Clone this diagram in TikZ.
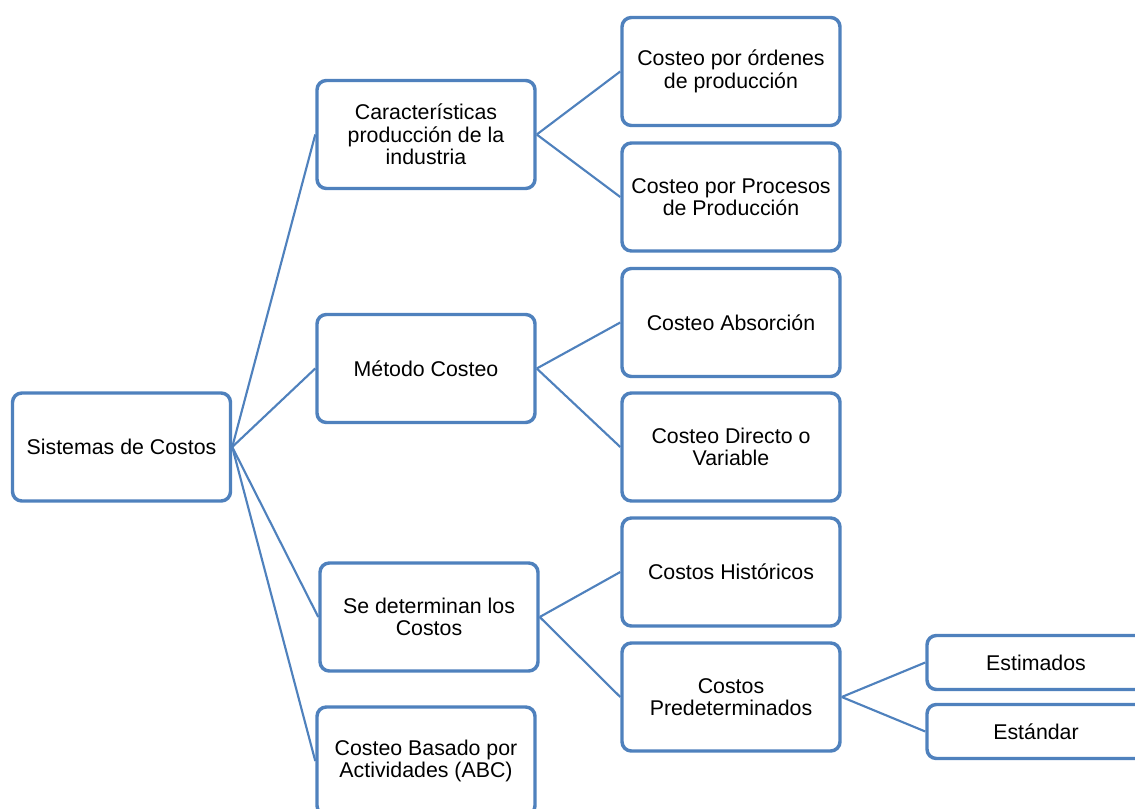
\documentclass[tikz,border=0pt]{standalone}
\usepackage{fontspec}
\setmainfont{Liberation Sans}
\definecolor{boxblue}{HTML}{4F81BD}
\begin{document}
\begin{tikzpicture}[x=0.75pt,y=-0.75pt,
  box/.style={draw=boxblue,line width=2.6pt,rounded corners=7pt,fill=white,
    minimum width=163.5pt,minimum height=81pt,align=center,inner sep=2pt,
    font=\fontsize{16}{17}\selectfont},
  smallbox/.style={box,minimum height=40.5pt},
  link/.style={draw=boxblue,line width=1.6pt}]
\useasboundingbox (0,0) rectangle (1135,809);
\clip (0,0) rectangle (1135,809);
\node[box] (sis) at (121.5,447) {Sistemas de Costos};
\node[box] (car) at (426,134.5) {Características\\producción de la\\industria};
\node[box] (met) at (426,368.5) {Método Costeo};
\node[box] (det) at (429,617) {Se determinan los\\Costos};
\node[box] (abc) at (426,761) {Costeo Basado por\\Actividades (ABC)};
\node[box] (ord) at (731,71.5) {Costeo por órdenes\\de producción};
\node[box] (pro) at (731,197) {Costeo por Procesos\\de Producción};
\node[box] (abs) at (731,322.5) {Costeo Absorción};
\node[box] (dir) at (731,447) {Costeo Directo o\\Variable};
\node[box] (his) at (731,572) {Costos Históricos};
\node[box] (pre) at (731,697) {Costos\\Predeterminados};
\node[smallbox] (est) at (1036,662.5) {Estimados};
\node[smallbox] (std) at (1036,731.5) {Estándar};
\path[link] (sis.east) -- (car.west);
\path[link] (sis.east) -- (met.west);
\path[link] (sis.east) -- (det.west);
\path[link] (sis.east) -- (abc.west);
\path[link] (car.east) -- (ord.west);
\path[link] (car.east) -- (pro.west);
\path[link] (met.east) -- (abs.west);
\path[link] (met.east) -- (dir.west);
\path[link] (det.east) -- (his.west);
\path[link] (det.east) -- (pre.west);
\path[link] (pre.east) -- (est.west);
\path[link] (pre.east) -- (std.west);
\end{tikzpicture}
\end{document}
